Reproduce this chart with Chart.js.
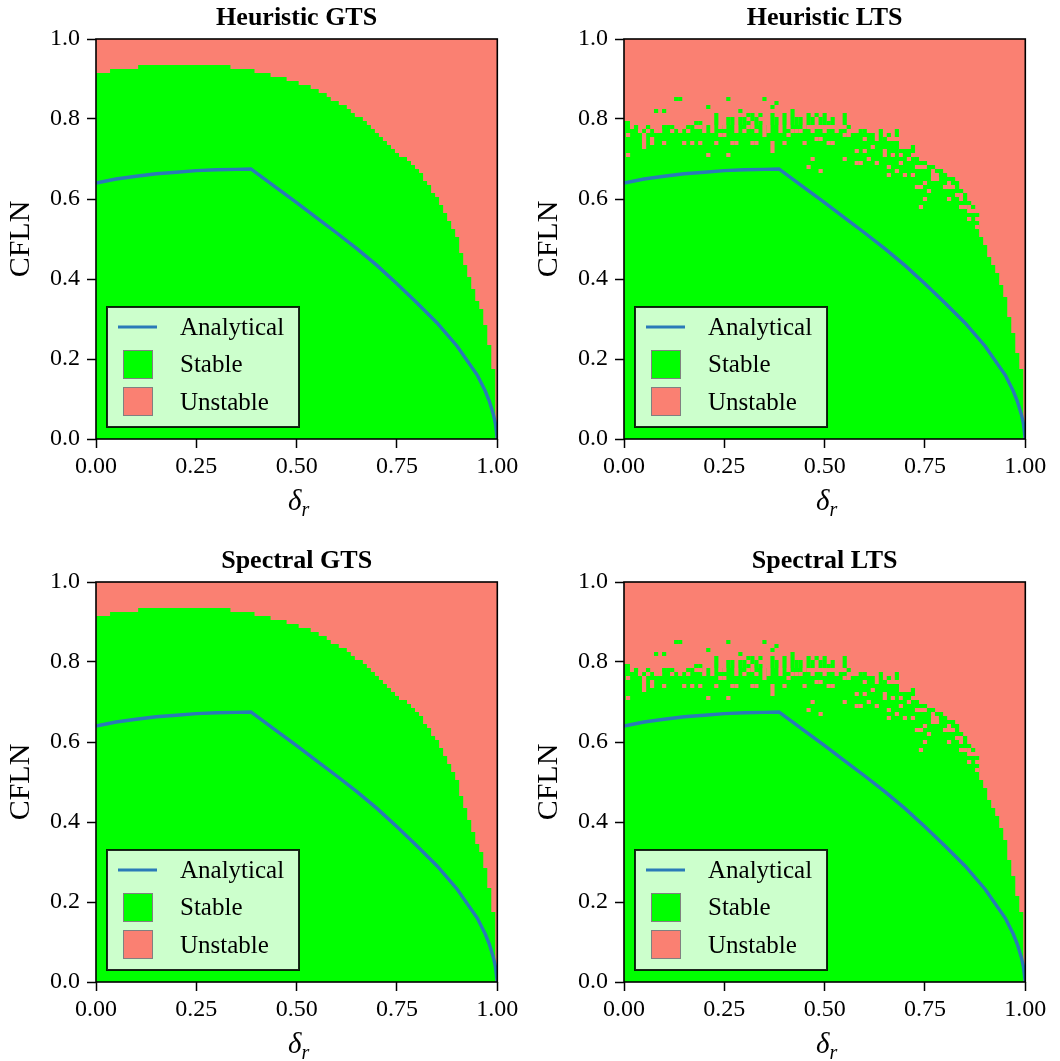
<!DOCTYPE html>
<html>
<head>
<meta charset="utf-8">
<script src="https://cdn.jsdelivr.net/npm/chart.js@4.4.0/dist/chart.umd.min.js"></script>
<style>
    html, body { margin: 0; padding: 0; background: #fff; overflow: hidden; }
    canvas { position: absolute; }
</style>
</head>
<body>
<canvas id="c0" width="528" height="518" style="left:0px;top:0px"></canvas>
<canvas id="c1" width="528" height="518" style="left:528px;top:0px"></canvas>
<canvas id="c2" width="528" height="518" style="left:0px;top:543px"></canvas>
<canvas id="c3" width="528" height="518" style="left:528px;top:543px"></canvas>
<script>
// Panel titles and axis ticks
var panelTitles = ['Heuristic GTS', 'Heuristic LTS', 'Spectral GTS', 'Spectral LTS'];
var legendLabels = ['Analytical', 'Stable', 'Unstable'];
var xTicks = [0, 0.25, 0.5, 0.75, 1];
var xTickLabels = ['0.00', '0.25', '0.50', '0.75', '1.00'];
var yTicks = [0, 0.2, 0.4, 0.6, 0.8, 1];
var yTickLabels = ['0.0', '0.2', '0.4', '0.6', '0.8', '1.0'];

// delta_r grid (cell centres)
var deltaR = [0.00, 0.01, 0.02, 0.03, 0.04, 0.05, 0.06, 0.07, 0.08, 0.09,
              0.10, 0.11, 0.12, 0.13, 0.14, 0.15, 0.16, 0.17, 0.18, 0.19,
              0.20, 0.21, 0.22, 0.23, 0.24, 0.25, 0.26, 0.27, 0.28, 0.29,
              0.30, 0.31, 0.32, 0.33, 0.34, 0.35, 0.36, 0.37, 0.38, 0.39,
              0.40, 0.41, 0.42, 0.43, 0.44, 0.45, 0.46, 0.47, 0.48, 0.49,
              0.50, 0.51, 0.52, 0.53, 0.54, 0.55, 0.56, 0.57, 0.58, 0.59,
              0.60, 0.61, 0.62, 0.63, 0.64, 0.65, 0.66, 0.67, 0.68, 0.69,
              0.70, 0.71, 0.72, 0.73, 0.74, 0.75, 0.76, 0.77, 0.78, 0.79,
              0.80, 0.81, 0.82, 0.83, 0.84, 0.85, 0.86, 0.87, 0.88, 0.89,
              0.90, 0.91, 0.92, 0.93, 0.94, 0.95, 0.96, 0.97, 0.98, 0.99, 1.00];

// GTS: top of the stable region per column (same in heuristic and spectral)
var gtsStableTop = [0.915, 0.915, 0.915, 0.915, 0.925, 0.925, 0.925, 0.925, 0.925, 0.925,
                    0.925, 0.935, 0.935, 0.935, 0.935, 0.935, 0.935, 0.935, 0.935, 0.935,
                    0.935, 0.935, 0.935, 0.935, 0.935, 0.935, 0.935, 0.935, 0.935, 0.935,
                    0.935, 0.935, 0.935, 0.935, 0.925, 0.925, 0.925, 0.925, 0.925, 0.925,
                    0.915, 0.915, 0.915, 0.915, 0.905, 0.905, 0.905, 0.905, 0.895, 0.895,
                    0.895, 0.885, 0.885, 0.885, 0.875, 0.875, 0.865, 0.865, 0.855, 0.845,
                    0.845, 0.835, 0.835, 0.825, 0.815, 0.805, 0.805, 0.795, 0.785, 0.775,
                    0.765, 0.755, 0.745, 0.735, 0.725, 0.715, 0.705, 0.705, 0.695, 0.685,
                    0.675, 0.665, 0.645, 0.635, 0.615, 0.605, 0.585, 0.565, 0.545, 0.525,
                    0.505, 0.465, 0.435, 0.405, 0.375, 0.345, 0.325, 0.285, 0.235, 0.175, 0.0];

// LTS: top of the dense stable region per column
var ltsStableTop = [0.795, 0.795, 0.775, 0.775, 0.775, 0.775, 0.775, 0.775, 0.775, 0.775,
                    0.775, 0.775, 0.775, 0.775, 0.775, 0.775, 0.775, 0.775, 0.775, 0.775,
                    0.785, 0.785, 0.785, 0.785, 0.785, 0.785, 0.785, 0.785, 0.785, 0.785,
                    0.785, 0.785, 0.785, 0.785, 0.785, 0.785, 0.785, 0.785, 0.785, 0.785,
                    0.785, 0.785, 0.785, 0.785, 0.785, 0.785, 0.775, 0.775, 0.775, 0.775,
                    0.775, 0.775, 0.775, 0.775, 0.775, 0.775, 0.765, 0.765, 0.765, 0.765,
                    0.765, 0.765, 0.765, 0.745, 0.745, 0.745, 0.745, 0.745, 0.745, 0.705,
                    0.705, 0.705, 0.705, 0.675, 0.675, 0.675, 0.675, 0.655, 0.655, 0.655,
                    0.655, 0.625, 0.625, 0.625, 0.595, 0.595, 0.565, 0.565, 0.545, 0.505,
                    0.485, 0.455, 0.435, 0.415, 0.385, 0.355, 0.305, 0.265, 0.215, 0.175, 0.0];

// LTS: isolated stable cells above the dense region [delta_r, CFLN]
var ltsStableSpecks = [
    [0.13, 0.85], [0.14, 0.85], [0.26, 0.85], [0.35, 0.85],
    [0.21, 0.83], [0.37, 0.83], [0.38, 0.84],
    [0.08, 0.82], [0.10, 0.82], [0.29, 0.82], [0.42, 0.82],
    [0.23, 0.81], [0.31, 0.81], [0.32, 0.81], [0.34, 0.81], [0.37, 0.81], [0.40, 0.81],
    [0.42, 0.81], [0.46, 0.81], [0.48, 0.81], [0.50, 0.81], [0.55, 0.81],
    [0.23, 0.80], [0.26, 0.80], [0.27, 0.80], [0.29, 0.80], [0.30, 0.80], [0.32, 0.80],
    [0.33, 0.80], [0.37, 0.80], [0.38, 0.80], [0.40, 0.80], [0.42, 0.80], [0.43, 0.80],
    [0.44, 0.80], [0.46, 0.80], [0.47, 0.80], [0.49, 0.80], [0.50, 0.80], [0.52, 0.80],
    [0.55, 0.80],
    [0.18, 0.79], [0.19, 0.79], [0.23, 0.79], [0.26, 0.79], [0.27, 0.79], [0.29, 0.79],
    [0.30, 0.79], [0.31, 0.79], [0.33, 0.79], [0.34, 0.79], [0.37, 0.79], [0.38, 0.79],
    [0.40, 0.79], [0.42, 0.79], [0.43, 0.79], [0.44, 0.79], [0.46, 0.79], [0.47, 0.79],
    [0.49, 0.79], [0.50, 0.79], [0.51, 0.79], [0.52, 0.79], [0.55, 0.79],
    [0.03, 0.78], [0.06, 0.78], [0.10, 0.78], [0.11, 0.78], [0.12, 0.78], [0.16, 0.78],
    [0.17, 0.78], [0.56, 0.78],
    [0.59, 0.77], [0.60, 0.77], [0.64, 0.77], [0.68, 0.77], [0.64, 0.76], [0.66, 0.76],
    [0.68, 0.76], [0.64, 0.75], [0.65, 0.75], [0.68, 0.74], [0.68, 0.73], [0.69, 0.72],
    [0.72, 0.73], [0.72, 0.72], [0.70, 0.71], [0.71, 0.71], [0.73, 0.70], [0.73, 0.69],
    [0.70, 0.72], [0.71, 0.72], [0.74, 0.69], [0.75, 0.69],
    [0.76, 0.68], [0.77, 0.68], [0.76, 0.67], [0.79, 0.67], [0.79, 0.66], [0.78, 0.67],
    [0.80, 0.66], [0.81, 0.65], [0.82, 0.65], [0.82, 0.64], [0.83, 0.63], [0.83, 0.64],
    [0.84, 0.62], [0.85, 0.61], [0.85, 0.60], [0.86, 0.59], [0.87, 0.58], [0.88, 0.56]
];

// LTS: unstable holes inside the dense region [delta_r, CFLN]
var ltsUnstableHoles = [
    [0.01, 0.76], [0.01, 0.71], [0.05, 0.76], [0.05, 0.75], [0.05, 0.74], [0.05, 0.73],
    [0.07, 0.75], [0.07, 0.74], [0.10, 0.74], [0.09, 0.77], [0.15, 0.74], [0.17, 0.74],
    [0.19, 0.74], [0.21, 0.71], [0.23, 0.74], [0.24, 0.76], [0.25, 0.76], [0.26, 0.71],
    [0.27, 0.74], [0.28, 0.74], [0.32, 0.74], [0.33, 0.74], [0.35, 0.77], [0.35, 0.76],
    [0.37, 0.74], [0.37, 0.73], [0.37, 0.72], [0.40, 0.74], [0.41, 0.76], [0.43, 0.77],
    [0.44, 0.77], [0.45, 0.74], [0.47, 0.70], [0.46, 0.68], [0.49, 0.67], [0.48, 0.75],
    [0.49, 0.75], [0.51, 0.74], [0.52, 0.74], [0.55, 0.76], [0.56, 0.76], [0.55, 0.70],
    [0.58, 0.69], [0.59, 0.69], [0.58, 0.72], [0.60, 0.75], [0.62, 0.73], [0.65, 0.72],
    [0.65, 0.71], [0.66, 0.68], [0.66, 0.66], [0.68, 0.67], [0.71, 0.70], [0.73, 0.63],
    [0.74, 0.63], [0.74, 0.58], [0.75, 0.64], [0.75, 0.60], [0.78, 0.65], [0.85, 0.58],
    [0.04, 0.77], [0.06, 0.77], [0.08, 0.77], [0.12, 0.77], [0.14, 0.77], [0.16, 0.77],
    [0.20, 0.77], [0.22, 0.77], [0.28, 0.77], [0.30, 0.77], [0.33, 0.77], [0.36, 0.77],
    [0.39, 0.77], [0.42, 0.77], [0.47, 0.77], [0.50, 0.77], [0.53, 0.77],
    [0.20, 0.78], [0.22, 0.78], [0.24, 0.78], [0.25, 0.78], [0.28, 0.78], [0.31, 0.78],
    [0.32, 0.78], [0.35, 0.78], [0.36, 0.78], [0.39, 0.78], [0.41, 0.78], [0.45, 0.78],
    [0.60, 0.72], [0.61, 0.70], [0.63, 0.69], [0.67, 0.71], [0.69, 0.69], [0.70, 0.66],
    [0.72, 0.66], [0.76, 0.62], [0.77, 0.65], [0.80, 0.63], [0.81, 0.60], [0.83, 0.61],
    [0.84, 0.58], [0.86, 0.55], [0.88, 0.53]
];

// Analytical stability limit
var analyticalDelta = [0.00, 0.05, 0.10, 0.15, 0.20, 0.25, 0.30, 0.35, 0.386, 0.45, 0.50,
                       0.55, 0.60, 0.65, 0.70, 0.75, 0.80, 0.85, 0.90, 0.95, 0.97, 0.98,
                       0.99, 0.995, 1.00];
var analyticalCFL = [0.640, 0.650, 0.657, 0.663, 0.667, 0.671, 0.673, 0.674, 0.675, 0.628, 0.591,
                     0.553, 0.515, 0.476, 0.434, 0.388, 0.340, 0.290, 0.232, 0.160, 0.120, 0.095,
                     0.062, 0.040, 0.000];

var GREEN = '#00ff00';
var RED = '#fa8072';
var BLUE = '#2a7ab8';
var SERIF = "'Liberation Serif', 'Times New Roman', serif";

function toPoints(xs, ys) {
    return xs.map(function(x, i) { return { x: x, y: ys[i] }; });
}

function pairsToPoints(pairs) {
    return pairs.map(function(p) { return { x: p[0], y: p[1] }; });
}

// black frame around the axes
var framePlugin = {
    id: 'frame',
    afterDatasetsDraw: function(chart) {
        var a = chart.chartArea, ctx = chart.ctx;
        ctx.save();
        ctx.strokeStyle = '#000';
        ctx.lineWidth = 1.6;
        ctx.strokeRect(a.left, a.top, a.right - a.left, a.bottom - a.top);
        ctx.restore();
    }
};

// legend box in the lower left corner + delta_r axis label
var decorPlugin = {
    id: 'decor',
    afterDraw: function(chart) {
        var a = chart.chartArea, ctx = chart.ctx;
        var bx = a.left + 11, by = a.bottom - 12 - 120, bw = 192, bh = 120;
        ctx.save();
        ctx.fillStyle = '#ccffcc';
        ctx.fillRect(bx, by, bw, bh);
        ctx.strokeStyle = 'rgba(0,0,0,0.85)';
        ctx.lineWidth = 2;
        ctx.strokeRect(bx, by, bw, bh);

        ctx.strokeStyle = BLUE;
        ctx.lineWidth = 3;
        ctx.beginPath();
        ctx.moveTo(bx + 11, by + 20);
        ctx.lineTo(bx + 50, by + 20);
        ctx.stroke();

        ctx.lineWidth = 1;
        ctx.strokeStyle = '#808080';
        ctx.fillStyle = GREEN;
        ctx.fillRect(bx + 16, by + 43, 30, 29);
        ctx.strokeRect(bx + 16.5, by + 43.5, 29, 28);
        ctx.fillStyle = RED;
        ctx.fillRect(bx + 16, by + 80, 30, 29);
        ctx.strokeRect(bx + 16.5, by + 80.5, 29, 28);

        ctx.fillStyle = '#000';
        ctx.font = '25px ' + SERIF;
        ctx.textBaseline = 'middle';
        ctx.textAlign = 'left';
        ctx.fillText(legendLabels[0], bx + 73, by + 21);
        ctx.fillText(legendLabels[1], bx + 73, by + 58);
        ctx.fillText(legendLabels[2], bx + 73, by + 96);

        // x label: delta with subscript r
        ctx.font = 'italic 29px ' + SERIF;
        var w1 = ctx.measureText('δ').width;
        ctx.font = 'italic 20px ' + SERIF;
        var w2 = ctx.measureText('r').width;
        var cx = (a.left + a.right) / 2 + 2;
        var x0 = cx - (w1 + w2) / 2;
        ctx.textBaseline = 'alphabetic';
        ctx.font = 'italic 29px ' + SERIF;
        ctx.fillText('δ', x0, 510);
        ctx.font = 'italic 20px ' + SERIF;
        ctx.fillText('r', x0 + w1, 516);
        ctx.restore();
    }
};

function makePanel(canvasId, title, stableTop, specks, holes) {
    var ctx = document.getElementById(canvasId).getContext('2d');
    var datasets = [
        {
            label: 'Analytical',
            data: toPoints(analyticalDelta, analyticalCFL),
            borderColor: BLUE,
            borderWidth: 3.4,
            pointRadius: 0,
            fill: false,
            order: 0
        },
        {
            label: 'Stable cells',
            data: pairsToPoints(specks),
            showLine: false,
            pointStyle: 'rect',
            pointRadius: 2.95,
            pointBorderWidth: 0,
            backgroundColor: GREEN,
            order: 1
        },
        {
            label: 'Unstable cells',
            data: pairsToPoints(holes),
            showLine: false,
            pointStyle: 'rect',
            pointRadius: 2.95,
            pointBorderWidth: 0,
            backgroundColor: RED,
            order: 1
        },
        {
            label: 'Stable',
            data: toPoints(deltaR, stableTop),
            stepped: 'middle',
            fill: 'origin',
            backgroundColor: GREEN,
            borderColor: 'transparent',
            borderWidth: 0,
            pointRadius: 0,
            order: 2
        },
        {
            label: 'Unstable',
            data: [{ x: 0, y: 1 }, { x: 1, y: 1 }],
            fill: 'origin',
            backgroundColor: RED,
            borderColor: 'transparent',
            borderWidth: 0,
            pointRadius: 0,
            order: 3
        }
    ];

    var tickFont = { family: SERIF, size: 24 };

    new Chart(ctx, {
        type: 'line',
        data: { datasets: datasets },
        options: {
            responsive: false,
            animation: false,
            events: [],
            layout: { padding: { top: 0, left: 0, right: 30.7, bottom: 0 } },
            plugins: {
                legend: { display: false },
                tooltip: { enabled: false },
                title: {
                    display: true,
                    text: title,
                    fullSize: false,
                    color: '#000',
                    font: { family: SERIF, size: 26, weight: 'bold' },
                    padding: { top: 3, bottom: 4.8 }
                }
            },
            scales: {
                x: {
                    type: 'linear',
                    min: 0,
                    max: 1,
                    afterBuildTicks: function(scale) {
                        scale.ticks = xTicks.map(function(v) { return { value: v }; });
                    },
                    afterFit: function(scale) { scale.height = 79; },
                    ticks: {
                        autoSkip: false,
                        maxRotation: 0,
                        color: '#000',
                        font: tickFont,
                        padding: 4,
                        callback: function(value, index) { return xTickLabels[index]; }
                    },
                    grid: {
                        drawOnChartArea: false,
                        drawTicks: true,
                        tickLength: 9,
                        tickWidth: 1.5,
                        tickColor: '#000'
                    },
                    border: { display: false }
                },
                y: {
                    type: 'linear',
                    min: 0,
                    max: 1,
                    afterBuildTicks: function(scale) {
                        scale.ticks = yTicks.map(function(v) { return { value: v }; });
                    },
                    afterFit: function(scale) { scale.width = 96; },
                    ticks: {
                        autoSkip: false,
                        color: '#000',
                        font: tickFont,
                        padding: 7,
                        callback: function(value, index) { return yTickLabels[index]; }
                    },
                    grid: {
                        drawOnChartArea: false,
                        drawTicks: true,
                        tickLength: 9,
                        tickWidth: 1.5,
                        tickColor: '#000'
                    },
                    border: { display: false },
                    title: {
                        display: true,
                        text: 'CFLN',
                        color: '#000',
                        font: { family: SERIF, size: 30 },
                        padding: { top: 3, bottom: 0 }
                    }
                }
            }
        },
        plugins: [framePlugin, decorPlugin]
    });
}

makePanel('c0', panelTitles[0], gtsStableTop, [], []);
makePanel('c1', panelTitles[1], ltsStableTop, ltsStableSpecks, ltsUnstableHoles);
makePanel('c2', panelTitles[2], gtsStableTop, [], []);
makePanel('c3', panelTitles[3], ltsStableTop, ltsStableSpecks, ltsUnstableHoles);
</script>
</body>
</html>
